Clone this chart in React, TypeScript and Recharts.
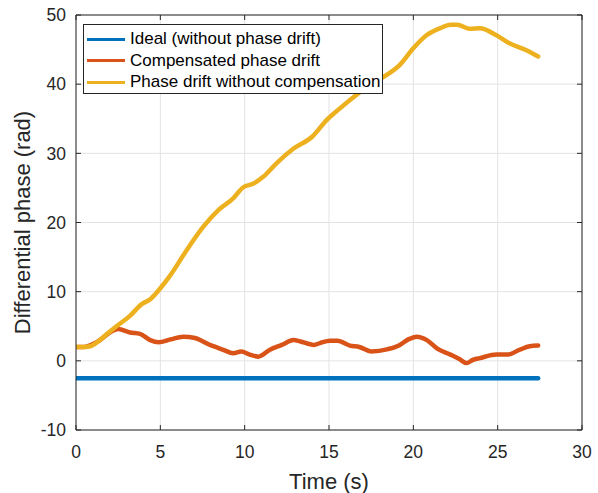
import { LineChart, Line, XAxis, YAxis, CartesianGrid, Label } from 'recharts';

const FONT = '"Liberation Sans", Arial, Helvetica, sans-serif';
const INK = '#262626';

const xTicks = [0, 5, 10, 15, 20, 25, 30];
const yTicks = [-10, 0, 10, 20, 30, 40, 50];

// reference (no drift)
const idealTime = [0, 3, 6, 9, 12, 15, 18, 21, 24, 27.4];
const idealPhase = [-2.5, -2.5, -2.5, -2.5, -2.5, -2.5, -2.5, -2.5, -2.5, -2.5];

// after drift compensation
const compTime = [
  0, 0.5, 0.9, 1.42, 2.0, 2.5, 3.2, 3.8, 4.4, 4.9, 5.6, 6.36, 7.05, 7.94, 8.73, 9.32,
  9.8, 10.3, 10.8, 11.5, 12.2, 12.9, 13.3, 14.1, 14.5, 15.06, 15.5, 16.24, 16.8, 17.5,
  18.5, 19.2, 19.7, 20.2, 20.8, 21.4, 22.2, 22.7, 23.16, 23.5, 23.95, 24.94, 25.6, 26.3,
  26.9, 27.4,
];
const compPhase = [
  2.0, 2.0, 2.3, 3.0, 4.1, 4.6, 4.1, 3.9, 3.0, 2.7, 3.1, 3.5, 3.3, 2.3, 1.6, 1.1,
  1.35, 0.9, 0.6, 1.6, 2.3, 3.0, 2.8, 2.3, 2.6, 2.9, 2.9, 2.2, 2.0, 1.35,
  1.7, 2.3, 3.1, 3.5, 3.0, 1.8, 0.9, 0.3, -0.33, 0.1, 0.4, 0.9, 0.9, 1.6,
  2.1, 2.2,
];

// uncompensated drift
const driftTime = [
  0, 0.5, 0.83, 1.2, 1.8, 2.4, 3.2, 3.9, 4.4, 5.0, 5.6, 6.56, 7.55, 8.44, 9.32, 9.92,
  10.5, 11.1, 11.9, 12.9, 14.0, 14.86, 15.65, 16.6, 17.5, 18.4, 19.2, 20.0, 20.8, 21.6,
  22.2, 22.6, 23.35, 23.95, 24.9, 25.7, 26.7, 27.4,
];
const driftPhase = [
  2.0, 2.0, 2.1, 2.6, 3.8, 5.0, 6.5, 8.2, 8.9, 10.5, 12.4, 16.0, 19.4, 21.8, 23.5, 25.1,
  25.6, 26.6, 28.6, 30.7, 32.4, 34.8, 36.5, 38.4, 40.0, 41.3, 42.8, 45.2, 47.1, 48.1,
  48.6, 48.6, 48.0, 48.1, 47.1, 45.9, 44.9, 44.0,
];

const series = [
  { name: 'Ideal (without phase drift)', color: '#0072BD', time: idealTime, phase: idealPhase },
  { name: 'Compensated phase drift', color: '#D95319', time: compTime, phase: compPhase },
  { name: 'Phase drift without compensation', color: '#EDB120', time: driftTime, phase: driftPhase },
];

const toPoints = (time: number[], phase: number[]) => time.map((t, i) => ({ t, v: phase[i] }));

const TICK_LEN = 5;

const BottomTick = ({ x, y, payload }: any) => (
  <g>
    <line x1={x} y1={y} x2={x} y2={y - TICK_LEN} stroke={INK} />
    <text x={x} y={y + 28} textAnchor="middle" fill={INK} fontSize={17.5} fontFamily={FONT}>
      {payload.value}
    </text>
  </g>
);

const LeftTick = ({ x, y, payload }: any) => (
  <g>
    <line x1={x} y1={y} x2={x + TICK_LEN} y2={y} stroke={INK} />
    <text x={x - 10} y={y + 6.3} textAnchor="end" fill={INK} fontSize={17.5} fontFamily={FONT}>
      {payload.value}
    </text>
  </g>
);

const TopTick = ({ x, y }: any) => <line x1={x} y1={y} x2={x} y2={y + TICK_LEN} stroke={INK} />;
const RightTick = ({ x, y }: any) => <line x1={x} y1={y} x2={x - TICK_LEN} y2={y} stroke={INK} />;

const XLabel = ({ viewBox }: any) => (
  <text
    x={viewBox.x + viewBox.width / 2}
    y={viewBox.y + 59}
    textAnchor="middle"
    fill={INK}
    fontSize={22}
    fontFamily={FONT}
  >
    Time (s)
  </text>
);

const YLabel = ({ viewBox }: any) => {
  const cx = viewBox.x + 29.5;
  const cy = viewBox.y + viewBox.height / 2;
  return (
    <text
      x={cx}
      y={cy}
      transform={`rotate(-90, ${cx}, ${cy})`}
      textAnchor="middle"
      fill={INK}
      fontSize={22}
      fontFamily={FONT}
    >
      Differential phase (rad)
    </text>
  );
};

function LegendBox() {
  return (
    <div
      style={{
        position: 'absolute',
        left: 83,
        top: 24,
        width: 300,
        height: 70,
        boxSizing: 'border-box',
        border: `1px solid ${INK}`,
        background: '#fff',
        fontFamily: FONT,
        fontSize: 17,
        color: '#000',
      }}
    >
      {series.map((s, i) => (
        <div
          key={s.name}
          style={{
            position: 'absolute',
            left: 3,
            top: 3 + i * 21.5,
            height: 22,
            display: 'flex',
            alignItems: 'center',
            whiteSpace: 'nowrap',
          }}
        >
          <span style={{ display: 'inline-block', width: 38, height: 3, background: s.color, marginRight: 5 }} />
          <span>{s.name}</span>
        </div>
      ))}
    </div>
  );
}

export default function App() {
  return (
    <div style={{ position: 'absolute', left: 0, top: 0, width: 598, height: 493, background: '#fff' }}>
      <LineChart width={598} height={493} margin={{ top: 14, right: 15, bottom: 0, left: 0 }}>
        <CartesianGrid stroke="#e3e3e3" horizontalValues={yTicks} verticalValues={xTicks} />
        <XAxis
          type="number"
          dataKey="t"
          domain={[0, 30]}
          ticks={xTicks}
          allowDataOverflow
          height={63}
          tickSize={0}
          tickMargin={0}
          tick={BottomTick}
          axisLine={{ stroke: INK }}
        >
          <Label content={XLabel} />
        </XAxis>
        {/* top and right axes close the box; they need a non-zero size to render */}
        <XAxis
          xAxisId="top"
          orientation="top"
          type="number"
          dataKey="t"
          domain={[0, 30]}
          ticks={xTicks}
          allowDataOverflow
          height={1}
          tickSize={0}
          tickMargin={0}
          tick={TopTick}
          axisLine={{ stroke: INK }}
        />
        <YAxis
          type="number"
          domain={[-10, 50]}
          ticks={yTicks}
          allowDataOverflow
          width={76}
          tickSize={0}
          tickMargin={0}
          tick={LeftTick}
          axisLine={{ stroke: INK }}
        >
          <Label content={YLabel} />
        </YAxis>
        <YAxis
          yAxisId="right"
          orientation="right"
          type="number"
          domain={[-10, 50]}
          ticks={yTicks}
          allowDataOverflow
          width={1}
          tickSize={0}
          tickMargin={0}
          tick={RightTick}
          axisLine={{ stroke: INK }}
        />
        <Line
          xAxisId="top"
          yAxisId="right"
          data={toPoints(idealTime, idealPhase)}
          dataKey="v"
          stroke="none"
          dot={false}
          activeDot={false}
          legendType="none"
          isAnimationActive={false}
        />
        {series.map((s) => (
          <Line
            key={s.name}
            data={toPoints(s.time, s.phase)}
            dataKey="v"
            name={s.name}
            type="monotone"
            stroke={s.color}
            strokeWidth={4.5}
            strokeLinejoin="round"
            strokeLinecap="round"
            dot={false}
            isAnimationActive={false}
          />
        ))}
      </LineChart>
      <LegendBox />
    </div>
  );
}
